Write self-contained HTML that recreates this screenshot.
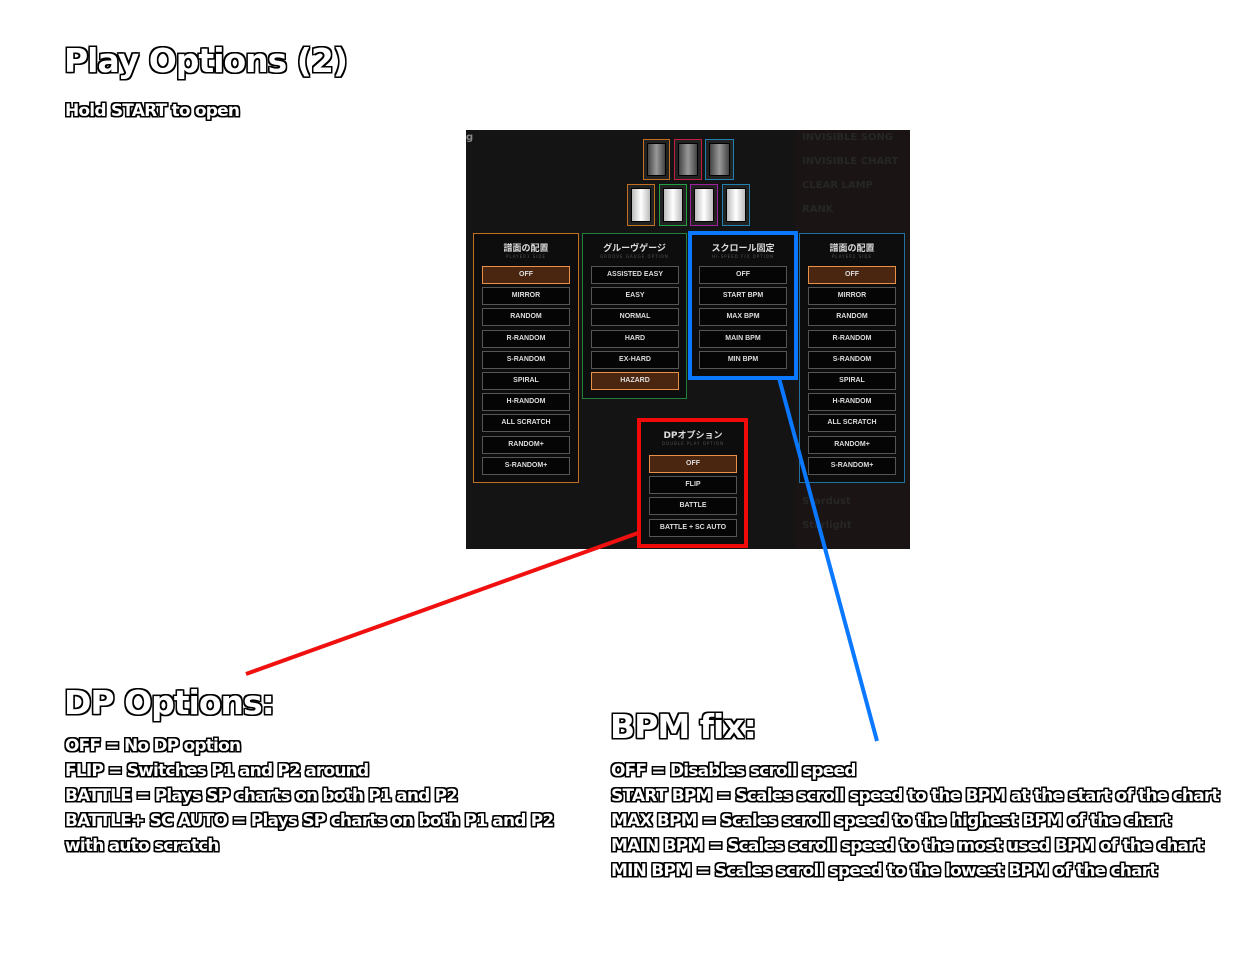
<!DOCTYPE html>
<html><head><meta charset="utf-8"><style>
body{margin:0;width:1234px;height:970px;background:#fff;position:relative;overflow:hidden;font-family:"DejaVu Sans","Liberation Sans","Noto Sans CJK JP",sans-serif}
.o{position:absolute;color:#fff;font-weight:bold;white-space:nowrap;letter-spacing:-0.8px;
text-shadow:-1.5px 0 #000,1.5px 0 #000,0 -1.5px #000,0 1.5px #000,-1.5px -1.5px #000,1.5px 1.5px #000,-1.5px 1.5px #000,1.5px -1.5px #000}
.h{font-size:33px;letter-spacing:-1px}
.t{font-size:17px;line-height:25px}
#ss{position:absolute;left:466px;top:130px;width:444px;height:419px;background:#141414;overflow:hidden}
.p{position:absolute;background:#0d0d0d;border:1px solid}
.pt{position:absolute;left:0;right:0;text-align:center;color:#ddd;font-size:9px;font-weight:bold}
.ps{position:absolute;left:0;right:0;text-align:center;color:#555;font-size:4px;letter-spacing:1px}
.b{position:absolute;height:16px;border:1px solid #555;background:#050505;color:#ddd;font-size:7px;font-weight:bold;text-align:center;line-height:16px;font-family:"Liberation Sans",sans-serif}
.b.s{background:#4a2510;border-color:#e89048}
.k{position:absolute;border:1px solid;background:#222}
.k i{position:absolute;left:3px;right:3px;top:3px;bottom:3px;background:linear-gradient(90deg,#444,#999,#444);border:1px solid #000}
.k.w i{background:linear-gradient(90deg,#bbb,#fff,#bbb)}
.g{position:absolute;color:#262626;font-size:10px;font-weight:bold}
</style></head><body>
<div class="o h" style="left:64px;top:41px">Play Options (2)</div>
<div class="o t" style="left:65px;top:99px">Hold START to open</div>

<div id="ss">
<div class="g" style="left:0;top:2px;color:#888">g</div>
<div style="position:absolute;left:330px;top:0;width:114px;height:419px;background:#1a1414"></div>
<div class="g" style="left:336px;top:2px">INVISIBLE SONG</div>
<div class="g" style="left:336px;top:26px">INVISIBLE CHART</div>
<div class="g" style="left:336px;top:50px">CLEAR LAMP</div>
<div class="g" style="left:336px;top:74px">RANK</div>
<div class="g" style="left:336px;top:366px">Stardust</div>
<div class="g" style="left:336px;top:390px">Starlight</div>
<div class="k" style="left:177px;top:9px;width:25px;height:39px;border-color:#c07020"><i></i></div>
<div class="k" style="left:208px;top:9px;width:26px;height:39px;border-color:#c02040"><i></i></div>
<div class="k" style="left:239px;top:9px;width:27px;height:39px;border-color:#2080b0"><i></i></div>
<div class="k w" style="left:161px;top:54px;width:26px;height:40px;border-color:#c07020"><i></i></div>
<div class="k w" style="left:193px;top:54px;width:26px;height:40px;border-color:#20a040"><i></i></div>
<div class="k w" style="left:224px;top:54px;width:26px;height:40px;border-color:#a020a0"><i></i></div>
<div class="k w" style="left:256px;top:54px;width:26px;height:40px;border-color:#2080b0"><i></i></div>

<div class="p" style="left:7px;top:103px;width:104px;height:248px;border-color:#c07020">
<div class="pt" style="top:7px">譜面の配置</div><div class="ps" style="top:20px">PLAYER1 SIDE</div></div>
<div class="p" style="left:116px;top:103px;width:103px;height:164px;border-color:#20803a">
<div class="pt" style="top:7px">グルーヴゲージ</div><div class="ps" style="top:20px">GROOVE GAUGE OPTION</div></div>
<div class="p" style="left:224px;top:103px;width:104px;height:144px;border-color:#0a0a0a">
<div class="pt" style="top:7px">スクロール固定</div><div class="ps" style="top:20px">HI-SPEED FIX OPTION</div></div>
<div class="p" style="left:333px;top:103px;width:104px;height:248px;border-color:#2070a0">
<div class="pt" style="top:7px">譜面の配置</div><div class="ps" style="top:20px">PLAYER2 SIDE</div></div>
<div class="p" style="left:173px;top:290px;width:106px;height:124px;border-color:#0a0a0a">
<div class="pt" style="top:7px">DPオプション</div><div class="ps" style="top:20px">DOUBLE PLAY OPTION</div></div>
<div style="position:absolute;left:222px;top:101px;width:102px;height:141px;border:4px solid #0a78ff"></div>
<div style="position:absolute;left:171px;top:288px;width:103px;height:122px;border:4px solid #f00a0a"></div>
<div id="btns"></div>
</div>

<svg style="position:absolute;left:0;top:0" width="1234" height="970">
<line x1="638" y1="533" x2="246" y2="674" stroke="#f01010" stroke-width="4"/>
<line x1="779" y1="378" x2="877" y2="741" stroke="#0a78ff" stroke-width="4"/>
</svg>

<div class="o h" style="left:64px;top:683px">DP Options:</div>
<div class="o t" style="left:65px;top:734px">OFF = No DP option<br>FLIP = Switches P1 and P2 around<br>BATTLE = Plays SP charts on both P1 and P2<br>BATTLE+ SC AUTO = Plays SP charts on both P1 and P2<br>with auto scratch</div>
<div class="o h" style="left:610px;top:707px">BPM fix:</div>
<div class="o t" style="left:611px;top:759px">OFF = Disables scroll speed<br>START BPM = Scales scroll speed to the BPM at the start of the chart<br>MAX BPM = Scales scroll speed to the highest BPM of the chart<br>MAIN BPM = Scales scroll speed to the most used BPM of the chart<br>MIN BPM = Scales scroll speed to the lowest BPM of the chart</div>

<script>
var c=document.getElementById('btns'),h='';
function col(x,y0,arr,sel){arr.forEach(function(t,i){h+='<div class="b'+(i==sel?' s':'')+'" style="left:'+x+'px;top:'+(y0+i*21.2-8)+'px;width:86px">'+t+'</div>';});}
var L=['OFF','MIRROR','RANDOM','R-RANDOM','S-RANDOM','SPIRAL','H-RANDOM','ALL SCRATCH','RANDOM+','S-RANDOM+'];
col(16,144,L,0);col(342,144,L,0);
col(125,144,['ASSISTED EASY','EASY','NORMAL','HARD','EX-HARD','HAZARD'],5);
col(233,144,['OFF','START BPM','MAX BPM','MAIN BPM','MIN BPM'],-1);
col(183,333,['OFF','FLIP','BATTLE','BATTLE + SC AUTO'],0);
c.innerHTML=h;
</script>
</body></html>
